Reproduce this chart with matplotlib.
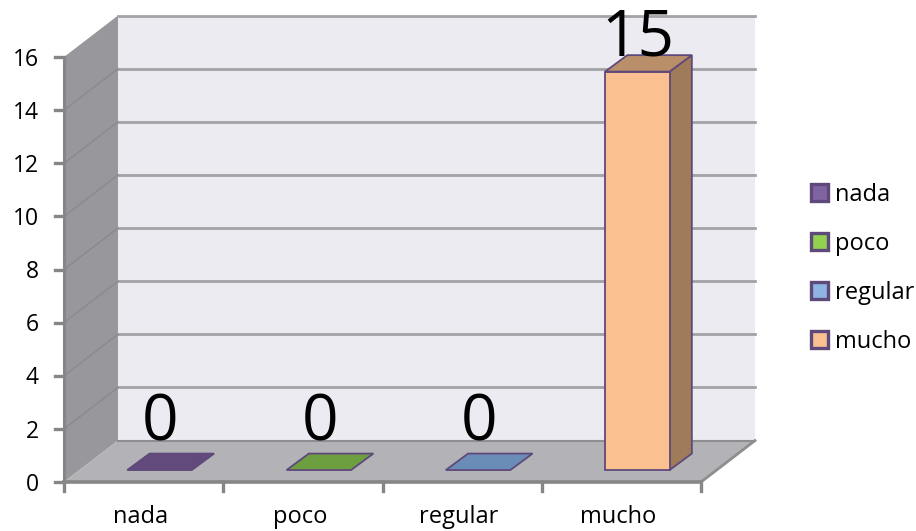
import matplotlib
matplotlib.use("Agg")
import matplotlib.pyplot as plt
from matplotlib.patches import Polygon, Patch

plt.rcParams["font.family"] = ["Open Sans", "DejaVu Sans"]

# data
categories = ["nada", "poco", "regular", "mucho"]
values = [0, 0, 0, 15]
y_ticks = [0, 2, 4, 6, 8, 10, 12, 14, 16]

# bar colours: front, top, side
front_cols = ["#604A7B", "#77933C", "#6F94C0", "#FAC090"]
top_cols = ["#624A7C", "#6D9E3F", "#6A8DB7", "#B98F6A"]
side_cols = ["#4F3D66", "#5A7F33", "#587AA0", "#A07B5A"]
legend_cols = ["#8064A2", "#92D050", "#8DB4E2", "#FAC090"]
edge_col = "#5F497A"

# 3d look, in data units
wall_dx, wall_dy = 0.339, 1.56
bar_off_x, bar_off_y = 0.10, 0.45
bar_w = 0.405
bar_dx, bar_dy = 0.14, 0.62

W, H = 916, 531
fig = plt.figure(figsize=(W / 100, H / 100), dpi=100)
ax = fig.add_axes([64 / W, (H - 482) / H, 637 / W, 425 / H])
ax.set_xlim(-0.5, 3.5)
ax.set_ylim(0, 16)
ax.axis("off")

x0, x1 = -0.5, 3.5


def poly(pts, fc, ec="none", lw=0, z=1):
    ax.add_patch(Polygon(pts, closed=True, facecolor=fc, edgecolor=ec,
                         linewidth=lw, zorder=z, clip_on=False))


# walls and floor
poly([(x0 + wall_dx, wall_dy), (x1 + wall_dx, wall_dy),
      (x1 + wall_dx, 16 + wall_dy), (x0 + wall_dx, 16 + wall_dy)], "#ECEBF1")
poly([(x0, 0), (x0 + wall_dx, wall_dy), (x0 + wall_dx, 16 + wall_dy), (x0, 16)], "#98979B")
poly([(x0, 0), (x1, 0), (x1 + wall_dx, wall_dy), (x0 + wall_dx, wall_dy)], "#B3B2B6")

# gridlines on back and side wall
for t in y_ticks:
    if t > 0:
        ax.plot([x0 + wall_dx, x1 + wall_dx], [t + wall_dy, t + wall_dy],
                color="#A3A3A6", lw=2.0, zorder=2, clip_on=False)
        if t < 16:
            ax.plot([x0, x0 + wall_dx], [t, t + wall_dy], color="#8A898D", lw=1.0,
                    zorder=2, clip_on=False)
    else:
        ax.plot([x0 + wall_dx, x1 + wall_dx], [wall_dy, wall_dy], color="#8E8E90",
                lw=1.5, zorder=2, clip_on=False)
        ax.plot([x1, x1 + wall_dx], [0, wall_dy], color="#8E8E8E", lw=2,
                zorder=2, clip_on=False)

# axes lines and ticks
ax.plot([x0, x1], [0, 0], color="#868686", lw=2.6, zorder=3, clip_on=False)
ax.plot([x0, x0], [0, 16], color="#868686", lw=2.2, zorder=3, clip_on=False)
for t in y_ticks:
    ax.plot([x0 - 0.058, x0], [t, t], color="#868686", lw=2.4, zorder=3, clip_on=False)
    ax.text(x0 - 0.157, t - 0.1, str(t), ha="right", va="center", fontsize=16.5,
            color="black", zorder=5, clip_on=False)
for i in range(len(categories) + 1):
    ax.plot([x0 + i, x0 + i], [0, -0.32], color="#868686", lw=2.4, zorder=3, clip_on=False)

# bars
for i, v in enumerate(values):
    l = i - bar_w / 2 + bar_off_x
    r = l + bar_w
    b = bar_off_y
    t = b + v
    if v > 0:
        poly([(r, b), (r + bar_dx, b + bar_dy), (r + bar_dx, t + bar_dy), (r, t)],
             side_cols[i], edge_col, 1.3, 4)
        poly([(l, b), (r, b), (r, t), (l, t)], front_cols[i], edge_col, 1.3, 4)
    poly([(l, t), (r, t), (r + bar_dx, t + bar_dy), (l + bar_dx, t + bar_dy)],
         top_cols[i], edge_col, 1.3, 4)
    # value labels sit higher over the flat bars
    lab_y = t + (1.13 if v == 0 else 0.6)
    ax.text(i + bar_off_x + 0.005, lab_y, str(v), ha="center", va="baseline",
            fontsize=46, color="black", zorder=6, clip_on=False)

# category labels
for i, c in enumerate(categories):
    ax.text(i - 0.02, -1.33, c, ha="center", va="center", fontsize=17,
            color="black", zorder=5, clip_on=False)

# legend
handles = [Patch(facecolor=legend_cols[i], edgecolor=edge_col, linewidth=2.4,
                 label=categories[i]) for i in range(len(categories))]
fig.legend(handles=handles, loc="upper left", bbox_to_anchor=(811 / W, (H - 183) / H),
           frameon=False, fontsize=17, handlelength=0.72, handleheight=0.72,
           handletextpad=0.3, labelspacing=1.06, borderaxespad=0, borderpad=0)

fig.savefig("out.png", dpi=100, facecolor="white")
